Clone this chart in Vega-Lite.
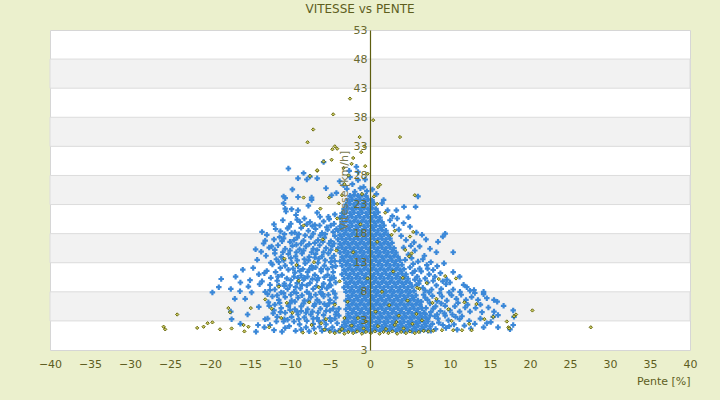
{
"$schema":"https://vega.github.io/schema/vega-lite/v6.json",
"width":640,"height":320,
"autosize":{"type":"none"},
"padding":{"left":50,"top":30,"right":30,"bottom":50},
"background":"#ebf0cd",
"title":{"text":"VITESSE vs PENTE","font":"DejaVu Sans","fontSize":12,"fontWeight":"normal","color":"#5e5e1e","anchor":"middle","dx":-10,"offset":8},
"config":{"view":{"stroke":"#d6d6d6","fill":"white"},"font":"DejaVu Sans","axis":{"labelOverlap":false,"labelFlush":false,"ticks":false},"axisY":{"zindex":2}},
"datasets":{
"bands":[{"lo":3,"hi":8},{"lo":13,"hi":18},{"lo":23,"hi":28},{"lo":33,"hi":38},{"lo":43,"hi":48}],
"blue":[
{"x":-3.75,"y":1.3},{"x":-3.25,"y":1.5},{"x":-2.75,"y":1.3},{"x":-2.25,"y":1.5},{"x":-1.75,"y":1.3},{"x":-1.25,"y":1.5},{"x":-0.75,"y":1.3},{"x":-0.25,"y":1.5},{"x":0.25,"y":1.3},{"x":0.75,"y":1.5},{"x":1.25,"y":1.3},{"x":1.75,"y":1.5},{"x":2.25,"y":1.3},{"x":2.75,"y":1.5},{"x":3.25,"y":1.3},{"x":3.75,"y":1.5},{"x":4.25,"y":1.3},{"x":4.75,"y":1.5},{"x":5.25,"y":1.3},{"x":5.75,"y":1.5},{"x":6.25,"y":1.3},{"x":6.75,"y":1.5},{"x":7.25,"y":1.3},
{"x":-3.5,"y":2},{"x":-3,"y":2.2},{"x":-2.5,"y":2},{"x":-2,"y":2.2},{"x":-1.5,"y":2},{"x":-1,"y":2.2},{"x":-0.5,"y":2},{"x":0,"y":2.2},{"x":0.5,"y":2},{"x":1,"y":2.2},{"x":1.5,"y":2},{"x":2,"y":2.2},{"x":2.5,"y":2},{"x":3,"y":2.2},{"x":3.5,"y":2},{"x":4,"y":2.2},{"x":4.5,"y":2},{"x":5,"y":2.2},{"x":5.5,"y":2},{"x":6,"y":2.2},{"x":6.5,"y":2},{"x":7,"y":2.2},{"x":7.5,"y":2},
{"x":-3.25,"y":2.75},{"x":-2.75,"y":2.9},{"x":-2.25,"y":2.75},{"x":-1.75,"y":2.9},{"x":-1.25,"y":2.75},{"x":-0.75,"y":2.9},{"x":-0.25,"y":2.75},{"x":0.25,"y":2.9},{"x":0.75,"y":2.75},{"x":1.25,"y":2.9},{"x":1.75,"y":2.75},{"x":2.25,"y":2.9},{"x":2.75,"y":2.75},{"x":3.25,"y":2.9},{"x":3.75,"y":2.75},{"x":4.25,"y":2.9},{"x":4.75,"y":2.75},{"x":5.25,"y":2.9},{"x":5.75,"y":2.75},{"x":6.25,"y":2.9},{"x":6.75,"y":2.75},{"x":7.25,"y":2.9},
{"x":-3,"y":3.5},{"x":-2.5,"y":3.65},{"x":-2,"y":3.5},{"x":-1.5,"y":3.65},{"x":-1,"y":3.5},{"x":-0.5,"y":3.65},{"x":0,"y":3.5},{"x":0.5,"y":3.65},{"x":1,"y":3.5},{"x":1.5,"y":3.65},{"x":2,"y":3.5},{"x":2.5,"y":3.65},{"x":3,"y":3.5},{"x":3.5,"y":3.65},{"x":4,"y":3.5},{"x":4.5,"y":3.65},{"x":5,"y":3.5},{"x":5.5,"y":3.65},{"x":6,"y":3.5},{"x":6.5,"y":3.65},{"x":7,"y":3.5},
{"x":-2.75,"y":4.25},{"x":-2.25,"y":4.4},{"x":-1.75,"y":4.25},{"x":-1.25,"y":4.4},{"x":-0.75,"y":4.25},{"x":-0.25,"y":4.4},{"x":0.25,"y":4.25},{"x":0.75,"y":4.4},{"x":1.25,"y":4.25},{"x":1.75,"y":4.4},{"x":2.25,"y":4.25},{"x":2.75,"y":4.4},{"x":3.25,"y":4.25},{"x":3.75,"y":4.4},{"x":4.25,"y":4.25},{"x":4.75,"y":4.4},{"x":5.25,"y":4.25},{"x":5.75,"y":4.4},{"x":6.25,"y":4.25},{"x":6.75,"y":4.4},
{"x":-3,"y":5},{"x":-2.5,"y":5.15},{"x":-2,"y":5},{"x":-1.5,"y":5.15},{"x":-1,"y":5},{"x":-0.5,"y":5.15},{"x":0,"y":5},{"x":0.5,"y":5.15},{"x":1,"y":5},{"x":1.5,"y":5.15},{"x":2,"y":5},{"x":2.5,"y":5.15},{"x":3,"y":5},{"x":3.5,"y":5.15},{"x":4,"y":5},{"x":4.5,"y":5.15},{"x":5,"y":5},{"x":5.5,"y":5.15},{"x":6,"y":5},{"x":6.5,"y":5.15},
{"x":-2.75,"y":5.75},{"x":-2.25,"y":5.9},{"x":-1.75,"y":5.75},{"x":-1.25,"y":5.9},{"x":-0.75,"y":5.75},{"x":-0.25,"y":5.9},{"x":0.25,"y":5.75},{"x":0.75,"y":5.9},{"x":1.25,"y":5.75},{"x":1.75,"y":5.9},{"x":2.25,"y":5.75},{"x":2.75,"y":5.9},{"x":3.25,"y":5.75},{"x":3.75,"y":5.9},{"x":4.25,"y":5.75},{"x":4.75,"y":5.9},{"x":5.25,"y":5.75},{"x":5.75,"y":5.9},{"x":6.25,"y":5.75},
{"x":-3,"y":6.5},{"x":-2.5,"y":6.65},{"x":-2,"y":6.5},{"x":-1.5,"y":6.65},{"x":-1,"y":6.5},{"x":-0.5,"y":6.65},{"x":0,"y":6.5},{"x":0.5,"y":6.65},{"x":1,"y":6.5},{"x":1.5,"y":6.65},{"x":2,"y":6.5},{"x":2.5,"y":6.65},{"x":3,"y":6.5},{"x":3.5,"y":6.65},{"x":4,"y":6.5},{"x":4.5,"y":6.65},{"x":5,"y":6.5},{"x":5.5,"y":6.65},{"x":6,"y":6.5},
{"x":-2.75,"y":7.25},{"x":-2.25,"y":7.4},{"x":-1.75,"y":7.25},{"x":-1.25,"y":7.4},{"x":-0.75,"y":7.25},{"x":-0.25,"y":7.4},{"x":0.25,"y":7.25},{"x":0.75,"y":7.4},{"x":1.25,"y":7.25},{"x":1.75,"y":7.4},{"x":2.25,"y":7.25},{"x":2.75,"y":7.4},{"x":3.25,"y":7.25},{"x":3.75,"y":7.4},{"x":4.25,"y":7.25},{"x":4.75,"y":7.4},{"x":5.25,"y":7.25},{"x":5.75,"y":7.4},
{"x":-3,"y":8},{"x":-2.5,"y":8.15},{"x":-2,"y":8},{"x":-1.5,"y":8.15},{"x":-1,"y":8},{"x":-0.5,"y":8.15},{"x":0,"y":8},{"x":0.5,"y":8.15},{"x":1,"y":8},{"x":1.5,"y":8.15},{"x":2,"y":8},{"x":2.5,"y":8.15},{"x":3,"y":8},{"x":3.5,"y":8.15},{"x":4,"y":8},{"x":4.5,"y":8.15},{"x":5,"y":8},{"x":5.5,"y":8.15},
{"x":-3.25,"y":8.75},{"x":-2.75,"y":8.9},{"x":-2.25,"y":8.75},{"x":-1.75,"y":8.9},{"x":-1.25,"y":8.75},{"x":-0.75,"y":8.9},{"x":-0.25,"y":8.75},{"x":0.25,"y":8.9},{"x":0.75,"y":8.75},{"x":1.25,"y":8.9},{"x":1.75,"y":8.75},{"x":2.25,"y":8.9},{"x":2.75,"y":8.75},{"x":3.25,"y":8.9},{"x":3.75,"y":8.75},{"x":4.25,"y":8.9},{"x":4.75,"y":8.75},{"x":5.25,"y":8.9},
{"x":-3,"y":9.5},{"x":-2.5,"y":9.65},{"x":-2,"y":9.5},{"x":-1.5,"y":9.65},{"x":-1,"y":9.5},{"x":-0.5,"y":9.65},{"x":0,"y":9.5},{"x":0.5,"y":9.65},{"x":1,"y":9.5},{"x":1.5,"y":9.65},{"x":2,"y":9.5},{"x":2.5,"y":9.65},{"x":3,"y":9.5},{"x":3.5,"y":9.65},{"x":4,"y":9.5},{"x":4.5,"y":9.65},{"x":5,"y":9.5},
{"x":-3.25,"y":10.25},{"x":-2.75,"y":10.4},{"x":-2.25,"y":10.25},{"x":-1.75,"y":10.4},{"x":-1.25,"y":10.25},{"x":-0.75,"y":10.4},{"x":-0.25,"y":10.25},{"x":0.25,"y":10.4},{"x":0.75,"y":10.25},{"x":1.25,"y":10.4},{"x":1.75,"y":10.25},{"x":2.25,"y":10.4},{"x":2.75,"y":10.25},{"x":3.25,"y":10.4},{"x":3.75,"y":10.25},{"x":4.25,"y":10.4},{"x":4.75,"y":10.25},
{"x":-3.5,"y":11},{"x":-3,"y":11.15},{"x":-2.5,"y":11},{"x":-2,"y":11.15},{"x":-1.5,"y":11},{"x":-1,"y":11.15},{"x":-0.5,"y":11},{"x":0,"y":11.15},{"x":0.5,"y":11},{"x":1,"y":11.15},{"x":1.5,"y":11},{"x":2,"y":11.15},{"x":2.5,"y":11},{"x":3,"y":11.15},{"x":3.5,"y":11},{"x":4,"y":11.15},{"x":4.5,"y":11},
{"x":-3.25,"y":11.75},{"x":-2.75,"y":11.9},{"x":-2.25,"y":11.75},{"x":-1.75,"y":11.9},{"x":-1.25,"y":11.75},{"x":-0.75,"y":11.9},{"x":-0.25,"y":11.75},{"x":0.25,"y":11.9},{"x":0.75,"y":11.75},{"x":1.25,"y":11.9},{"x":1.75,"y":11.75},{"x":2.25,"y":11.9},{"x":2.75,"y":11.75},{"x":3.25,"y":11.9},{"x":3.75,"y":11.75},{"x":4.25,"y":11.9},
{"x":-3.5,"y":12.5},{"x":-3,"y":12.65},{"x":-2.5,"y":12.5},{"x":-2,"y":12.65},{"x":-1.5,"y":12.5},{"x":-1,"y":12.65},{"x":-0.5,"y":12.5},{"x":0,"y":12.65},{"x":0.5,"y":12.5},{"x":1,"y":12.65},{"x":1.5,"y":12.5},{"x":2,"y":12.65},{"x":2.5,"y":12.5},{"x":3,"y":12.65},{"x":3.5,"y":12.5},{"x":4,"y":12.65},
{"x":-3.75,"y":13.25},{"x":-3.25,"y":13.4},{"x":-2.75,"y":13.25},{"x":-2.25,"y":13.4},{"x":-1.75,"y":13.25},{"x":-1.25,"y":13.4},{"x":-0.75,"y":13.25},{"x":-0.25,"y":13.4},{"x":0.25,"y":13.25},{"x":0.75,"y":13.4},{"x":1.25,"y":13.25},{"x":1.75,"y":13.4},{"x":2.25,"y":13.25},{"x":2.75,"y":13.4},{"x":3.25,"y":13.25},{"x":3.75,"y":13.4},
{"x":-3.5,"y":14},{"x":-3,"y":14.15},{"x":-2.5,"y":14},{"x":-2,"y":14.15},{"x":-1.5,"y":14},{"x":-1,"y":14.15},{"x":-0.5,"y":14},{"x":0,"y":14.15},{"x":0.5,"y":14},{"x":1,"y":14.15},{"x":1.5,"y":14},{"x":2,"y":14.15},{"x":2.5,"y":14},{"x":3,"y":14.15},{"x":3.5,"y":14},
{"x":-3.75,"y":14.75},{"x":-3.25,"y":14.9},{"x":-2.75,"y":14.75},{"x":-2.25,"y":14.9},{"x":-1.75,"y":14.75},{"x":-1.25,"y":14.9},{"x":-0.75,"y":14.75},{"x":-0.25,"y":14.9},{"x":0.25,"y":14.75},{"x":0.75,"y":14.9},{"x":1.25,"y":14.75},{"x":1.75,"y":14.9},{"x":2.25,"y":14.75},{"x":2.75,"y":14.9},{"x":3.25,"y":14.75},
{"x":-4,"y":15.5},{"x":-3.5,"y":15.65},{"x":-3,"y":15.5},{"x":-2.5,"y":15.65},{"x":-2,"y":15.5},{"x":-1.5,"y":15.65},{"x":-1,"y":15.5},{"x":-0.5,"y":15.65},{"x":0,"y":15.5},{"x":0.5,"y":15.65},{"x":1,"y":15.5},{"x":1.5,"y":15.65},{"x":2,"y":15.5},{"x":2.5,"y":15.65},{"x":3,"y":15.5},
{"x":-3.75,"y":16.25},{"x":-3.25,"y":16.4},{"x":-2.75,"y":16.25},{"x":-2.25,"y":16.4},{"x":-1.75,"y":16.25},{"x":-1.25,"y":16.4},{"x":-0.75,"y":16.25},{"x":-0.25,"y":16.4},{"x":0.25,"y":16.25},{"x":0.75,"y":16.4},{"x":1.25,"y":16.25},{"x":1.75,"y":16.4},{"x":2.25,"y":16.25},{"x":2.75,"y":16.4},
{"x":-4,"y":17},{"x":-3.5,"y":17.15},{"x":-3,"y":17},{"x":-2.5,"y":17.15},{"x":-2,"y":17},{"x":-1.5,"y":17.15},{"x":-1,"y":17},{"x":-0.5,"y":17.15},{"x":0,"y":17},{"x":0.5,"y":17.15},{"x":1,"y":17},{"x":1.5,"y":17.15},{"x":2,"y":17},{"x":2.5,"y":17.15},
{"x":-3.75,"y":17.75},{"x":-3.25,"y":17.9},{"x":-2.75,"y":17.75},{"x":-2.25,"y":17.9},{"x":-1.75,"y":17.75},{"x":-1.25,"y":17.9},{"x":-0.75,"y":17.75},{"x":-0.25,"y":17.9},{"x":0.25,"y":17.75},{"x":0.75,"y":17.9},{"x":1.25,"y":17.75},{"x":1.75,"y":17.9},{"x":2.25,"y":17.75},
{"x":-4,"y":18.5},{"x":-3.5,"y":18.65},{"x":-3,"y":18.5},{"x":-2.5,"y":18.65},{"x":-2,"y":18.5},{"x":-1.5,"y":18.65},{"x":-1,"y":18.5},{"x":-0.5,"y":18.65},{"x":0,"y":18.5},{"x":0.5,"y":18.65},{"x":1,"y":18.5},{"x":1.5,"y":18.65},{"x":2,"y":18.5},
{"x":-3.75,"y":19.25},{"x":-3.25,"y":19.4},{"x":-2.75,"y":19.25},{"x":-2.25,"y":19.4},{"x":-1.75,"y":19.25},{"x":-1.25,"y":19.4},{"x":-0.75,"y":19.25},{"x":-0.25,"y":19.4},{"x":0.25,"y":19.25},{"x":0.75,"y":19.4},{"x":1.25,"y":19.25},{"x":1.75,"y":19.4},
{"x":-3.5,"y":20},{"x":-3,"y":20.15},{"x":-2.5,"y":20},{"x":-2,"y":20.15},{"x":-1.5,"y":20},{"x":-1,"y":20.15},{"x":-0.5,"y":20},{"x":0,"y":20.15},{"x":0.5,"y":20},{"x":1,"y":20.15},{"x":1.5,"y":20},
{"x":-3.75,"y":20.75},{"x":-3.25,"y":20.9},{"x":-2.75,"y":20.75},{"x":-2.25,"y":20.9},{"x":-1.75,"y":20.75},{"x":-1.25,"y":20.9},{"x":-0.75,"y":20.75},{"x":-0.25,"y":20.9},{"x":0.25,"y":20.75},{"x":0.75,"y":20.9},{"x":1.25,"y":20.75},
{"x":-3.5,"y":21.5},{"x":-3,"y":21.65},{"x":-2.5,"y":21.5},{"x":-2,"y":21.65},{"x":-1.5,"y":21.5},{"x":-1,"y":21.65},{"x":-0.5,"y":21.5},{"x":0,"y":21.65},{"x":0.5,"y":21.5},{"x":1,"y":21.65},
{"x":-3.25,"y":22.25},{"x":-2.75,"y":22.4},{"x":-2.25,"y":22.25},{"x":-1.75,"y":22.4},{"x":-1.25,"y":22.25},{"x":-0.75,"y":22.4},{"x":-0.25,"y":22.25},{"x":0.25,"y":22.4},{"x":0.75,"y":22.25},
{"x":-3,"y":23},{"x":-2.5,"y":23.15},{"x":-2,"y":23},{"x":-1.5,"y":23.15},{"x":-1,"y":23},{"x":-0.5,"y":23.15},{"x":0,"y":23},{"x":0.5,"y":23.15},
{"x":-2.75,"y":23.75},{"x":-2.25,"y":23.9},{"x":-1.75,"y":23.75},{"x":-1.25,"y":23.9},{"x":-0.75,"y":23.75},{"x":-0.25,"y":23.9},{"x":0.25,"y":23.75},
{"x":-2.5,"y":24.5},{"x":-2,"y":24.65},{"x":-1.5,"y":24.5},{"x":-1,"y":24.65},{"x":-0.5,"y":24.5},
{"x":-10.2,"y":29.2},{"x":-8.3,"y":28.4},{"x":-9,"y":27.5},{"x":-7.5,"y":27.8},{"x":-7.9,"y":27.3},{"x":-6.6,"y":27.5},{"x":-5.8,"y":30.3},{"x":-9.7,"y":25.6},{"x":-10.8,"y":24.4},{"x":-10.6,"y":22.3},{"x":-9.8,"y":22.2},{"x":-9,"y":22},{"x":-7.7,"y":22.8},{"x":-7.3,"y":23.8},{"x":-10.6,"y":24.1},{"x":-9,"y":24.3},{"x":-7.3,"y":24.2},{"x":-10.8,"y":23.2},{"x":-10.5,"y":21.8},{"x":-9.25,"y":21.2},{"x":-1.7,"y":29.5},{"x":-1.5,"y":28.6},{"x":1.7,"y":23.8},{"x":1.5,"y":23.2},{"x":4.25,"y":22.6},{"x":5.7,"y":22.6},{"x":6,"y":24.4},{"x":2.2,"y":22},{"x":3.3,"y":22},{"x":4.8,"y":20.8},{"x":5,"y":19.2},{"x":7,"y":17},{"x":8.5,"y":16.6},{"x":9.1,"y":17.5},{"x":9.4,"y":18},{"x":-13.5,"y":18.3},{"x":-12.9,"y":17.8},{"x":-13.3,"y":16.3},{"x":-8.75,"y":20},{"x":-7.5,"y":20},{"x":-6.25,"y":20.9},{"x":-5.2,"y":20.9},
{"x":-2.9,"y":25.7},{"x":-2.2,"y":26.5},{"x":-1.5,"y":27.2},{"x":-0.8,"y":26},{"x":-0.4,"y":25.3},{"x":-2.5,"y":27.7},{"x":-1.9,"y":25.2},{"x":-1.2,"y":25.8},{"x":-3.3,"y":26.3},{"x":-0.6,"y":27.3},{"x":-4.2,"y":25},{"x":-4.8,"y":24.6},{"x":-5.5,"y":25.8},{"x":-3.8,"y":27},{"x":0.3,"y":25.6},{"x":0.8,"y":24.8},{"x":-2.6,"y":28.8},
{"x":2.5,"y":20.3},{"x":3,"y":19.4},{"x":2.8,"y":21},{"x":3.6,"y":18.7},{"x":4.2,"y":19.8},{"x":3.9,"y":17.6},{"x":4.5,"y":16.9},{"x":5.5,"y":16.5},{"x":6.2,"y":15.8},{"x":6.5,"y":17.8},{"x":3.4,"y":20.6},{"x":5.8,"y":18.2},{"x":4.2,"y":15.6},{"x":4.8,"y":14.4},{"x":5.1,"y":15.9},{"x":4.4,"y":13.5},{"x":5,"y":12.2},{"x":5.6,"y":11.6},
{"x":8.3,"y":14.8},{"x":10.4,"y":14.8},{"x":6.8,"y":14.2},{"x":5.6,"y":15.1},{"x":7.5,"y":15.4},
{"x":9.25,"y":12.9},{"x":8.4,"y":12.4},{"x":7.1,"y":12.6},{"x":7.9,"y":11.75},{"x":6,"y":13.2},{"x":5.4,"y":12.8},{"x":6.6,"y":13.6},{"x":7.6,"y":13.1},{"x":5.2,"y":13.8},
{"x":5.3,"y":11.2},{"x":5.9,"y":10.6},{"x":6.4,"y":11.5},{"x":6.9,"y":10.3},{"x":7.4,"y":11},{"x":8.1,"y":10.6},{"x":8.8,"y":11.2},{"x":9.6,"y":10.1},{"x":5.6,"y":10.1},{"x":6.2,"y":12},{"x":7.2,"y":12},{"x":10.4,"y":11.4},{"x":11.2,"y":10.6},
{"x":6.1,"y":9.4},{"x":6.6,"y":8.7},{"x":7.2,"y":9.6},{"x":7.7,"y":8.4},{"x":8.3,"y":9.1},{"x":8.9,"y":8.5},{"x":9.5,"y":9.3},{"x":10.4,"y":8.4},{"x":11.25,"y":8},{"x":12.5,"y":8.2},{"x":13,"y":8.3},{"x":14.2,"y":8},{"x":14.2,"y":7.6},{"x":10,"y":9.6},{"x":11.7,"y":9.2},{"x":12.1,"y":8.8},{"x":9.1,"y":9.8},{"x":6.9,"y":8.2},{"x":7.9,"y":9.9},
{"x":6.7,"y":7.5},{"x":7.2,"y":6.6},{"x":7.8,"y":7.3},{"x":8.4,"y":6.4},{"x":9,"y":7.2},{"x":9.6,"y":6.5},{"x":10.2,"y":7.4},{"x":10.8,"y":6.8},{"x":11.4,"y":7.5},{"x":12,"y":6.6},{"x":12.7,"y":7.1},{"x":13.5,"y":6.6},{"x":15.5,"y":6.6},{"x":15.9,"y":6.3},{"x":16.7,"y":5.6},{"x":7.5,"y":6},{"x":8.7,"y":7.8},{"x":11,"y":6.1},{"x":13.1,"y":7.8},{"x":14.6,"y":6.9},{"x":6.4,"y":6.3},{"x":9.9,"y":7.9},
{"x":7,"y":5.2},{"x":7.6,"y":4.5},{"x":8.2,"y":5.5},{"x":8.8,"y":4.7},{"x":9.4,"y":5.6},{"x":10,"y":4.8},{"x":10.6,"y":5.5},{"x":11.2,"y":4.6},{"x":11.9,"y":5.3},{"x":12.5,"y":4.6},{"x":13.2,"y":5.2},{"x":14,"y":4.5},{"x":14.8,"y":5.3},{"x":16,"y":4},{"x":15.5,"y":4.6},{"x":17.9,"y":4.8},{"x":6.9,"y":4.2},{"x":8.4,"y":4.1},{"x":10.3,"y":4.1},{"x":12.2,"y":5.8},{"x":13.8,"y":5.8},
{"x":7.2,"y":3.3},{"x":7.8,"y":2.5},{"x":8.5,"y":3.4},{"x":9.1,"y":2.3},{"x":9.8,"y":3.1},{"x":10.5,"y":2.4},{"x":11.2,"y":3.3},{"x":11.8,"y":2.2},{"x":12.4,"y":3},{"x":13.1,"y":2.5},{"x":13.8,"y":3.4},{"x":14.6,"y":2.6},{"x":15.4,"y":3.7},{"x":16,"y":1.9},{"x":17.5,"y":1.55},{"x":17.9,"y":2.3},{"x":18,"y":3.7},{"x":8.2,"y":1.6},{"x":9.5,"y":1.8},{"x":10.9,"y":1.5},{"x":12.6,"y":1.7},{"x":14.2,"y":1.9},{"x":15.1,"y":2.8},{"x":7.5,"y":3.9},{"x":9.4,"y":3.9},{"x":11.5,"y":3.8},
{"x":6.2,"y":9.9},{"x":5.8,"y":9.2},{"x":6.9,"y":7},{"x":7.4,"y":7.9},{"x":7.9,"y":5.1},{"x":8.1,"y":3.8},{"x":8.6,"y":2.7},{"x":7.6,"y":1.3},{"x":8.9,"y":6},{"x":9.3,"y":4.3},{"x":10.7,"y":3.7},{"x":9.9,"y":2.1},
{"x":-18.9,"y":8.8},{"x":-19.7,"y":7.9},{"x":-17.4,"y":8.5},{"x":-16.25,"y":8.1},{"x":-15.2,"y":8.9},{"x":-14.8,"y":7.9},{"x":-13.8,"y":9.3},{"x":-13.1,"y":8},{"x":-12.5,"y":8.3},{"x":-17.4,"y":4.6},{"x":-17.3,"y":3.3},{"x":-16.9,"y":6.8},{"x":-15.6,"y":6.8},{"x":-14.25,"y":1.15},{"x":-14,"y":2.3},{"x":-13.1,"y":3.3},{"x":-12.5,"y":2.3},{"x":-12.1,"y":4.3},{"x":-11.7,"y":2.9},{"x":-11,"y":1.15},{"x":-10.8,"y":2.9},{"x":-10.7,"y":3.3},{"x":-18.6,"y":10.2},{"x":-16.8,"y":10.6},{"x":-15.9,"y":11.8},{"x":-14.6,"y":12.1},{"x":-14.1,"y":13.5},{"x":-13.6,"y":14.9},{"x":-14.3,"y":15.3},{"x":-13.9,"y":11},{"x":-15,"y":10},{"x":-16.2,"y":9.6},{"x":-12.7,"y":6.2},{"x":-13.9,"y":5.4},{"x":-15.3,"y":4.1},{"x":-16.2,"y":2.5},{"x":-12.9,"y":11.6},{"x":-12.4,"y":13},{"x":-13.1,"y":16.8},{"x":-12.3,"y":15.8},{"x":-11.8,"y":18.8},{"x":-11.3,"y":17.4},{"x":-12,"y":19.6},
{"x":-10.9,"y":20.3},{"x":-9.9,"y":19.7},{"x":-8.2,"y":20.6},{"x":-6.9,"y":19.5},{"x":-5.8,"y":20.1},{"x":-4.9,"y":19.4},{"x":-4.4,"y":21.3},{"x":-6.6,"y":21.6},
{"x":-11.2,"y":18.4},{"x":-10.3,"y":18.9},{"x":-9.4,"y":18.2},{"x":-8.6,"y":19},{"x":-7.7,"y":18.5},{"x":-6.8,"y":18.8},{"x":-6,"y":18.1},{"x":-5.3,"y":18.7},{"x":-4.6,"y":18.3},
{"x":-12,"y":17},{"x":-10.8,"y":17.2},{"x":-10,"y":16.6},{"x":-9.1,"y":17.3},{"x":-8.3,"y":16.8},{"x":-7.4,"y":17.4},{"x":-6.5,"y":16.9},{"x":-5.7,"y":17.3},{"x":-4.9,"y":16.7},{"x":-4.4,"y":17.6},
{"x":-12.6,"y":15.6},{"x":-11.5,"y":16},{"x":-10.6,"y":15.4},{"x":-9.7,"y":15.9},{"x":-8.8,"y":15.3},{"x":-8,"y":15.8},{"x":-7.1,"y":15.4},{"x":-6.3,"y":16},{"x":-5.5,"y":15.5},{"x":-4.7,"y":15.9},
{"x":-13,"y":14.2},{"x":-11.9,"y":14.6},{"x":-11.1,"y":14},{"x":-10.2,"y":14.5},{"x":-9.3,"y":14.1},{"x":-8.5,"y":14.6},{"x":-7.6,"y":14},{"x":-6.8,"y":14.5},{"x":-6,"y":14.1},{"x":-5.2,"y":14.6},{"x":-4.5,"y":14.2},
{"x":-12.2,"y":12.7},{"x":-11.4,"y":13.1},{"x":-10.6,"y":12.5},{"x":-9.8,"y":13},{"x":-9,"y":12.4},{"x":-8.1,"y":12.9},{"x":-7.3,"y":12.4},{"x":-6.5,"y":13},{"x":-5.7,"y":12.5},{"x":-4.9,"y":13.1},{"x":-4.3,"y":12.4},{"x":-10.2,"y":11.8},
{"x":-13.2,"y":11.2},{"x":-11.8,"y":11.4},{"x":-11,"y":10.9},{"x":-9.4,"y":11.3},{"x":-8.6,"y":10.8},{"x":-7.8,"y":11.4},{"x":-6.9,"y":10.9},{"x":-6.1,"y":11.5},{"x":-5.3,"y":10.9},{"x":-4.6,"y":11.4},{"x":-12.4,"y":10.4},
{"x":-13.5,"y":9.8},{"x":-11.6,"y":9.9},{"x":-10.7,"y":9.4},{"x":-9.9,"y":10},{"x":-9.1,"y":9.5},{"x":-8.3,"y":10.1},{"x":-7.5,"y":9.5},{"x":-6.6,"y":10},{"x":-5.8,"y":9.4},{"x":-5,"y":10},{"x":-4.3,"y":9.6},
{"x":-11.9,"y":8.4},{"x":-11.1,"y":7.9},{"x":-10.3,"y":8.5},{"x":-9.5,"y":8},{"x":-8.7,"y":8.6},{"x":-7.9,"y":8},{"x":-7.1,"y":8.5},{"x":-6.2,"y":8},{"x":-5.4,"y":8.6},{"x":-4.6,"y":8.1},{"x":-10.7,"y":9},{"x":-12.2,"y":7.2},
{"x":-11.4,"y":6.6},{"x":-10.6,"y":7.1},{"x":-9.8,"y":6.5},{"x":-9,"y":7},{"x":-8.2,"y":6.5},{"x":-7.4,"y":7.1},{"x":-6.6,"y":6.6},{"x":-5.8,"y":7.2},{"x":-5,"y":6.6},{"x":-4.3,"y":7},{"x":-11.9,"y":5.8},
{"x":-11.1,"y":5.2},{"x":-10.2,"y":5.6},{"x":-9.4,"y":5},{"x":-8.6,"y":5.5},{"x":-7.8,"y":5},{"x":-7,"y":5.6},{"x":-6.2,"y":5.1},{"x":-5.4,"y":5.6},{"x":-4.6,"y":5.1},{"x":-10.6,"y":4.4},
{"x":-9.8,"y":3.7},{"x":-9,"y":4.1},{"x":-8.2,"y":3.6},{"x":-7.4,"y":4.1},{"x":-6.6,"y":3.5},{"x":-5.8,"y":4},{"x":-5,"y":3.5},{"x":-4.3,"y":4.1},{"x":-9.5,"y":2.9},
{"x":-10.1,"y":2.1},{"x":-8.8,"y":2.4},{"x":-8,"y":1.9},{"x":-7.1,"y":2.5},{"x":-6.3,"y":2},{"x":-5.5,"y":2.4},{"x":-4.7,"y":1.9},{"x":-4.1,"y":2.6},{"x":-9.3,"y":1.3},{"x":-7.6,"y":1.2},{"x":-6,"y":1.3},
{"x":-7.2,"y":19.3},{"x":-5.4,"y":19.1},{"x":-8.9,"y":17.9},{"x":-6.2,"y":17.7},{"x":-4.2,"y":18.8},{"x":-7.6,"y":16.2},{"x":-5.1,"y":16.3},{"x":-9.2,"y":16.1},{"x":-8.2,"y":13.6},{"x":-6.4,"y":13.7},{"x":-4.8,"y":13.8},{"x":-7.2,"y":12},{"x":-5.3,"y":11.9},{"x":-8.4,"y":11.9},{"x":-6.5,"y":10.4},{"x":-4.8,"y":10.5},{"x":-7.8,"y":10.6},{"x":-9.5,"y":10.6},{"x":-6.7,"y":9},{"x":-5.1,"y":9.1},{"x":-8.5,"y":9.2},{"x":-7.6,"y":7.7},{"x":-5.9,"y":7.6},{"x":-4.4,"y":7.7},{"x":-9.2,"y":7.8},{"x":-6.9,"y":5.9},{"x":-5.1,"y":6},{"x":-8.3,"y":6},{"x":-7.2,"y":4.6},{"x":-5.5,"y":4.7},{"x":-4.2,"y":4.5},{"x":-8.6,"y":4.7},{"x":-6.4,"y":3},{"x":-4.9,"y":3},{"x":-7.9,"y":3},{"x":-3.9,"y":1.3},{"x":-5.1,"y":1.4},
{"x":-10.1,"y":19.2},{"x":-9.1,"y":20.4},{"x":-7.9,"y":19.6},{"x":-6.3,"y":19.4},{"x":-5.1,"y":20.5},
{"x":-10.7,"y":17.9},{"x":-9.8,"y":18.1},{"x":-8.1,"y":17.7},{"x":-7.1,"y":18},{"x":-5.6,"y":17.9},{"x":-4.5,"y":19.7},
{"x":-11,"y":16.7},{"x":-9.5,"y":16.9},{"x":-8.6,"y":16.3},{"x":-6.9,"y":16.4},{"x":-5.9,"y":16.6},{"x":-4.5,"y":16.3},
{"x":-11.9,"y":15.2},{"x":-10.9,"y":14.8},{"x":-10,"y":15.1},{"x":-9.2,"y":14.8},{"x":-8.3,"y":15.1},{"x":-7.3,"y":14.8},{"x":-6.6,"y":15.2},{"x":-5.8,"y":14.8},{"x":-4.9,"y":15.2},
{"x":-11.7,"y":13.6},{"x":-10.8,"y":13.4},{"x":-9.9,"y":13.8},{"x":-9.1,"y":13.4},{"x":-7.7,"y":13.4},{"x":-6.9,"y":13.9},{"x":-5.6,"y":13.4},{"x":-4.4,"y":13.3},
{"x":-11.2,"y":12.1},{"x":-9.6,"y":12},{"x":-8.8,"y":11.6},{"x":-7.6,"y":11.8},{"x":-6.8,"y":12.2},{"x":-6.1,"y":11.9},{"x":-4.7,"y":12.3},
{"x":-11.5,"y":10.6},{"x":-10.4,"y":10.3},{"x":-9,"y":10.4},{"x":-8.2,"y":10.4},{"x":-7.2,"y":10.2},{"x":-5.7,"y":10.5},{"x":-4.5,"y":10.4},
{"x":-12.5,"y":9.2},{"x":-11.4,"y":9.1},{"x":-10,"y":9.1},{"x":-9.3,"y":8.8},{"x":-7.9,"y":9.1},{"x":-6,"y":8.8},{"x":-4.9,"y":9.1},
{"x":-12.8,"y":7.6},{"x":-11.6,"y":7.4},{"x":-10.8,"y":7.8},{"x":-9.9,"y":7.5},{"x":-8.5,"y":7.4},{"x":-6.8,"y":7.5},{"x":-6.1,"y":7.7},{"x":-5.2,"y":7.5},
{"x":-12.6,"y":5.6},{"x":-11.3,"y":6.1},{"x":-10,"y":6},{"x":-9.4,"y":6.3},{"x":-7.7,"y":6.5},{"x":-6.3,"y":6.2},{"x":-4.5,"y":6.1},{"x":-5.7,"y":5.9},
{"x":-12,"y":4.8},{"x":-11.2,"y":4.5},{"x":-10,"y":4.9},{"x":-9.1,"y":4.6},{"x":-8,"y":4.4},{"x":-6.5,"y":4.4},{"x":-5,"y":4.8},{"x":-3.9,"y":5.1},
{"x":-12.8,"y":3.4},{"x":-11.6,"y":3.7},{"x":-10.3,"y":3.2},{"x":-8.9,"y":3.3},{"x":-7.1,"y":3.4},{"x":-5.7,"y":3.1},{"x":-4.4,"y":3.4},{"x":-3.9,"y":3.9},
{"x":-13.2,"y":1.9},{"x":-12,"y":1.4},{"x":-10.6,"y":1.8},{"x":-8.6,"y":1.5},{"x":-7,"y":1.7},{"x":-5.6,"y":1.6},{"x":-4.4,"y":1.2}
],
"olive":[
{"x":-2.5,"y":41.2},{"x":-4.6,"y":38.5},{"x":0.4,"y":37.5},{"x":-7.1,"y":35.9},{"x":-7.8,"y":33.7},{"x":3.75,"y":34.6},{"x":-1.3,"y":34.6},{"x":-4.4,"y":33},{"x":-4.7,"y":32.5},{"x":-4.1,"y":32.6},{"x":-0.7,"y":33},{"x":-1.1,"y":32},{"x":-4.8,"y":30.7},{"x":-2.1,"y":31},{"x":-2.3,"y":30},{"x":-5.8,"y":30.4},{"x":-6.6,"y":28.8},{"x":-0.6,"y":29.6},{"x":-7.5,"y":27.9},{"x":-6.6,"y":28.9},{"x":-8.3,"y":24.2},{"x":1,"y":26},{"x":1.25,"y":26.4},{"x":5.6,"y":24.6},{"x":5.4,"y":18.3},{"x":5,"y":17.5},
{"x":-2.7,"y":28},{"x":-3.3,"y":29.3},{"x":-0.3,"y":28.3},{"x":0.5,"y":24.4},{"x":-1,"y":24.8},{"x":-3.5,"y":24.6},{"x":0.9,"y":23.1},{"x":1.9,"y":21.6},{"x":2.7,"y":17.8},{"x":3.1,"y":18.5},{"x":4.4,"y":15.2},{"x":4.9,"y":14.1},{"x":5.2,"y":14.6},
{"x":-25.8,"y":2},{"x":-25.6,"y":1.55},{"x":-24.1,"y":4.1},{"x":-21.6,"y":1.8},{"x":-20.8,"y":2},{"x":-19.7,"y":2.75},{"x":-20.3,"y":2.6},{"x":-18.75,"y":1.55},{"x":-17.7,"y":5.2},{"x":-17.5,"y":4.5},{"x":-17.3,"y":1.7},{"x":-15.8,"y":2.3},{"x":-15.7,"y":1.2},{"x":-15.2,"y":2},{"x":-14.9,"y":5.2},
{"x":9.4,"y":10.7},{"x":10.75,"y":10.3},{"x":17.1,"y":2.9},{"x":17.3,"y":1.9},{"x":17.4,"y":1.7},{"x":18,"y":3.8},{"x":18.25,"y":4.1},{"x":20.3,"y":4.8},{"x":27.6,"y":1.9},{"x":15.4,"y":3.7},{"x":6.7,"y":1.3},{"x":7.3,"y":1.2},{"x":7.9,"y":1.3},{"x":9,"y":1.4},{"x":10.4,"y":1.4},{"x":11.5,"y":1.4},{"x":12.7,"y":1.4},{"x":13.3,"y":5.9},{"x":11.8,"y":6.2},{"x":9.8,"y":5},{"x":8.3,"y":6.8},{"x":12.4,"y":2.5},{"x":10.2,"y":3},{"x":14.3,"y":3.3},{"x":6.2,"y":8.5},{"x":7.1,"y":9.5},{"x":8.6,"y":10.2},
{"x":-5,"y":1.1},{"x":-4.4,"y":0.9},{"x":-3.8,"y":1.2},{"x":-3.2,"y":0.8},{"x":-2.7,"y":1.1},{"x":-2.1,"y":0.9},{"x":-1.6,"y":1.2},{"x":-1,"y":0.8},{"x":-0.5,"y":1.1},{"x":0.1,"y":0.9},{"x":0.6,"y":1.2},{"x":1.2,"y":0.8},{"x":1.7,"y":1.1},{"x":2.3,"y":0.9},{"x":2.8,"y":1.2},{"x":3.4,"y":0.8},{"x":3.9,"y":1.1},{"x":4.5,"y":0.9},{"x":5,"y":1.2},{"x":5.6,"y":0.9},{"x":6.1,"y":1.1},{"x":-3.5,"y":1.6},{"x":-0.8,"y":1.7},{"x":2,"y":1.6},{"x":4.2,"y":1.7},{"x":-5.7,"y":1.5},{"x":-6.8,"y":0.9},{"x":-8.4,"y":1},{"x":-2.3,"y":2.2},{"x":1,"y":2.1},{"x":3.1,"y":2.3},{"x":5.3,"y":2.5},
{"x":-10.4,"y":6.1},{"x":-9.7,"y":4.4},{"x":-8.9,"y":9.9},{"x":-7.6,"y":6.2},{"x":-6.4,"y":8.8},{"x":-5.5,"y":3.3},{"x":-11.4,"y":8.9},{"x":-12.3,"y":5.1},{"x":-9.2,"y":12.6},{"x":-7,"y":13.1},{"x":-5.9,"y":17},{"x":-4.2,"y":15.1},{"x":-8.3,"y":19.4},{"x":-10.7,"y":13.7},{"x":-13.1,"y":6.7},{"x":-6.1,"y":2.6},{"x":-4.4,"y":5.8},{"x":-7.3,"y":2.3},{"x":-11.1,"y":3.5},{"x":-12.6,"y":1.9},{"x":-3.8,"y":9.8},{"x":-4.1,"y":20.6},{"x":-3.9,"y":23.2},{"x":-3.2,"y":26.5},{"x":-5.1,"y":24.2},{"x":-6.2,"y":22.3},
{"x":-1.5,"y":3.5},{"x":0.7,"y":4.6},{"x":2.4,"y":5.7},{"x":3.6,"y":3.9},{"x":-2.8,"y":6.3},{"x":1.5,"y":8},{"x":4.7,"y":6.5},{"x":-0.3,"y":10.3},{"x":2.9,"y":11.5},{"x":-2.1,"y":14.8},{"x":0.9,"y":16.6},{"x":-1.2,"y":19.6},{"x":5.8,"y":4.2},{"x":6.5,"y":3.1},{"x":7.8,"y":6.1},{"x":4.1,"y":10.4},{"x":5.9,"y":8.7},{"x":3.3,"y":2.8},{"x":-0.5,"y":2.9},{"x":-3.2,"y":3.5}
]
},
"layer":[
{"data":{"name":"bands"},"mark":{"type":"rect","fill":"#f2f2f2","stroke":"#dcdcdc","strokeWidth":1},
 "encoding":{
  "x":{"datum":-40,"type":"quantitative","scale":{"domain":[-40,40],"nice":false},
   "axis":{"title":"Pente [%]","values":[-40,-35,-30,-25,-20,-15,-10,-5,0,5,10,15,20,25,30,35,40],"grid":false,"domain":false,"ticks":false,"labelFlush":false,"labelOverlap":false,"labelColor":"#5e5e1e","labelFontSize":11,"labelPadding":8,"titleColor":"#5e5e1e","titleFontSize":11,"titleFontWeight":"normal","titleAnchor":"end","titlePadding":6}},
  "x2":{"datum":40},
  "y":{"field":"lo","type":"quantitative","scale":{"domain":[-2,53],"nice":false,"zero":false},
   "axis":{"title":"Vitesse [km/h]","offset":-320,"values":[-2,3,8,13,18,23,28,33,38,43,48,53],"labelExpr":"datum.value == -2 ? '3' : datum.label","grid":false,"domainColor":"#5e5e10","domainWidth":1.2,"ticks":false,"labelFlush":false,"labelOverlap":false,"labelColor":"#6a6a30","labelFontSize":11,"labelPadding":3,"titleColor":"#7a7a50","titleFontSize":11,"titleFontWeight":"normal","titlePadding":4,"zindex":2}},
  "y2":{"field":"hi"}}},
{"data":{"name":"blue"},"mark":{"type":"point","shape":"cross","filled":true,"size":30,"color":"#3b88d8","opacity":1},
 "encoding":{
  "x":{"field":"x","type":"quantitative","scale":{"domain":[-40,40],"nice":false},
   "axis":{"title":"Pente [%]","values":[-40,-35,-30,-25,-20,-15,-10,-5,0,5,10,15,20,25,30,35,40],"grid":false,"domain":false,"ticks":false,"labelFlush":false,"labelOverlap":false,"labelColor":"#5e5e1e","labelFontSize":11,"labelPadding":8,"titleColor":"#5e5e1e","titleFontSize":11,"titleFontWeight":"normal","titleAnchor":"end","titlePadding":6}},
  "y":{"field":"y","type":"quantitative","scale":{"domain":[-2,53],"nice":false,"zero":false},
   "axis":{"title":"Vitesse [km/h]","offset":-320,"values":[-2,3,8,13,18,23,28,33,38,43,48,53],"labelExpr":"datum.value == -2 ? '3' : datum.label","grid":false,"domainColor":"#5e5e10","domainWidth":1.2,"ticks":false,"labelFlush":false,"labelOverlap":false,"labelColor":"#6a6a30","labelFontSize":11,"labelPadding":3,"titleColor":"#7a7a50","titleFontSize":11,"titleFontWeight":"normal","titlePadding":4,"zindex":2}}}},
{"data":{"name":"olive"},"mark":{"type":"point","shape":"diamond","filled":true,"size":11,"fill":"#c8c860","stroke":"#5e5e00","strokeWidth":0.9,"opacity":1},
 "encoding":{
  "x":{"field":"x","type":"quantitative","scale":{"domain":[-40,40],"nice":false},
   "axis":{"title":"Pente [%]","values":[-40,-35,-30,-25,-20,-15,-10,-5,0,5,10,15,20,25,30,35,40],"grid":false,"domain":false,"ticks":false,"labelFlush":false,"labelOverlap":false,"labelColor":"#5e5e1e","labelFontSize":11,"labelPadding":8,"titleColor":"#5e5e1e","titleFontSize":11,"titleFontWeight":"normal","titleAnchor":"end","titlePadding":6}},
  "y":{"field":"y","type":"quantitative","scale":{"domain":[-2,53],"nice":false,"zero":false},
   "axis":{"title":"Vitesse [km/h]","offset":-320,"values":[-2,3,8,13,18,23,28,33,38,43,48,53],"labelExpr":"datum.value == -2 ? '3' : datum.label","grid":false,"domainColor":"#5e5e10","domainWidth":1.2,"ticks":false,"labelFlush":false,"labelOverlap":false,"labelColor":"#6a6a30","labelFontSize":11,"labelPadding":3,"titleColor":"#7a7a50","titleFontSize":11,"titleFontWeight":"normal","titlePadding":4,"zindex":2}}}}
]
}
